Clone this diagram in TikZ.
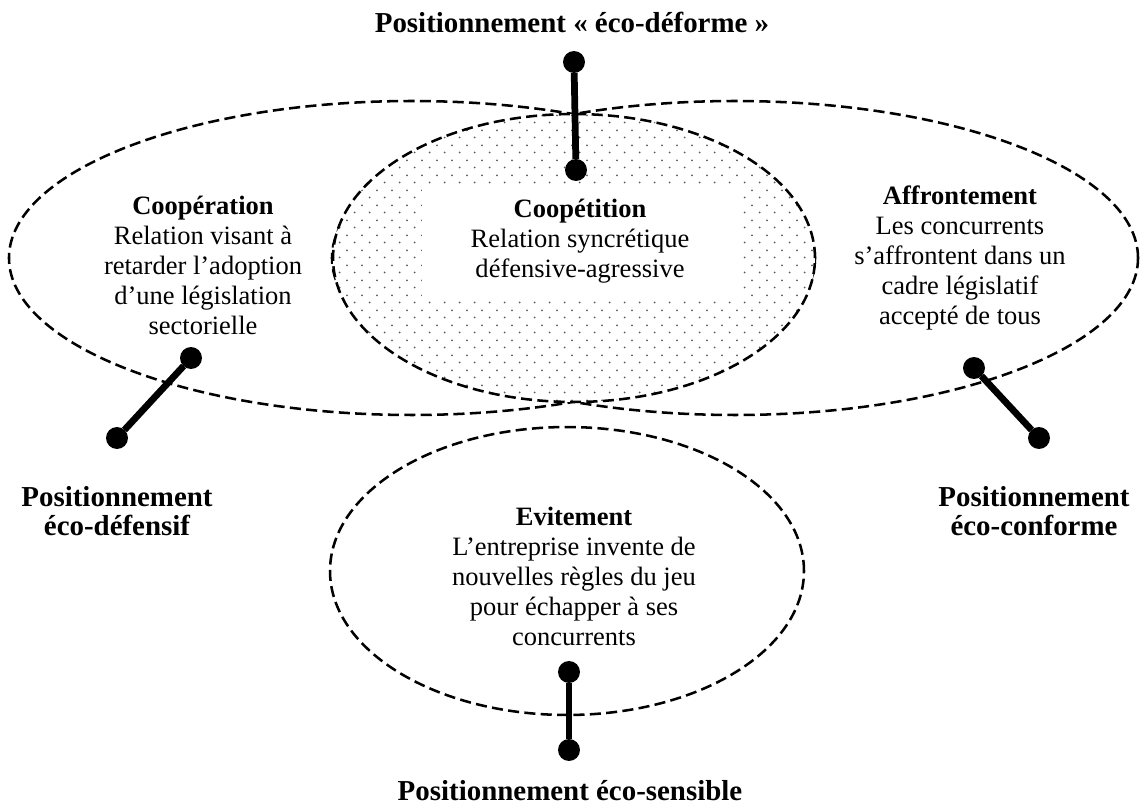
\documentclass[tikz,border=0pt]{standalone}
\usepackage{fontspec}
\setmainfont{Liberation Serif}
\usetikzlibrary{shapes.geometric,patterns}

% staggered fine dots for the shared zone
\pgfdeclarepatternformonly{stagdots}{\pgfpointorigin}{\pgfpoint{6.35pt}{6.06pt}}{\pgfpoint{6.35pt}{6.06pt}}{%
  \pgfpathcircle{\pgfpoint{1.59pt}{1.515pt}}{0.42pt}%
  \pgfpathcircle{\pgfpoint{4.765pt}{4.545pt}}{0.42pt}%
  \pgfusepath{fill}}

\begin{document}
\begin{tikzpicture}[x=0.415pt,y=-0.415pt,
  zone/.style={ellipse, draw, dash pattern=on 4.6pt off 2.2pt, line width=1.05pt,
    inner sep=0pt, outer sep=0pt},
  pin/.style={circle, fill, inner sep=0pt, outer sep=0pt, minimum size=9.1pt},
  stick/.style={line width=2.8pt},
  body/.style={font=\fontsize{11}{12.45}\selectfont, align=center, inner sep=0pt},
  title/.style={font=\fontsize{12}{11.9}\selectfont\bfseries, align=center, inner sep=0pt}]
\useasboundingbox (0,0) rectangle (1141,805);

% the two strategy fields and their overlap
\node[zone, minimum width=334.5pt, minimum height=130.3pt] (coop) at (412,258) {};
\node[zone, minimum width=334.5pt, minimum height=130.3pt] (affr) at (735,258) {};
\node[zone, preaction={fill=white}, pattern=stagdots, pattern color=black!65,
      minimum width=200pt, minimum height=119.5pt] (mid) at (574,258) {};
\node[zone, minimum width=196.7pt, minimum height=119.5pt] (evit) at (567,571) {};

% texts inside the fields
\node[body] (tcoop) at (203,265) {\textbf{Coopération}\\Relation visant à\\retarder l’adoption\\d’une législation\\sectorielle};
\node[body, fill=white, minimum width=131.1pt, minimum height=46.5pt] (tmid) at (580,241) {\textbf{Coopétition}\\Relation syncrétique\\défensive-agressive};
\node[body] (taffr) at (960,258) {\textbf{Affrontement}\\Les concurrents\\s’affrontent dans un\\cadre législatif\\accepté de tous};
\node[body] (tevit) at (574,576) {\textbf{Evitement}\\L’entreprise invente de\\nouvelles règles du jeu\\pour échapper à ses\\concurrents};

% positioning labels
\node[title, anchor=base] (ldef) at (572,33) {Positionnement «~éco-déforme~»};
\node[title] (ldefe) at (117,511) {Positionnement\\éco-défensif};
\node[title] (lconf) at (1034,511) {Positionnement\\éco-conforme};
\node[title, anchor=base] (lsens) at (570,800) {Positionnement éco-sensible};

% pins
\node[pin] (pa1) at (574,62) {};
\node[pin] (pa2) at (576,170) {};
\node[pin] (pb1) at (191,358) {};
\node[pin] (pb2) at (117,438) {};
\node[pin] (pc1) at (974,368) {};
\node[pin] (pc2) at (1039,438) {};
\node[pin] (pd1) at (569,672) {};
\node[pin] (pd2) at (569,750) {};

\draw[stick] (pa1) -- (pa2);
\draw[stick] (pb1) -- (pb2);
\draw[stick] (pc1) -- (pc2);
\draw[stick] (pd1) -- (pd2);
\end{tikzpicture}
\end{document}
